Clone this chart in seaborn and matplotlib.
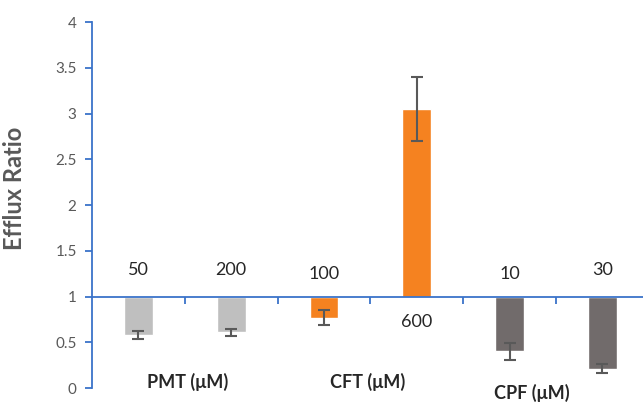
import numpy as np
import pandas as pd
import matplotlib.pyplot as plt
import seaborn as sns

# data
drugs = ['PMT', 'PMT', 'CFT', 'CFT', 'CPF', 'CPF']
doses = ['50', '200', '100', '600', '10', '30']
efflux = [0.58, 0.61, 0.77, 3.05, 0.40, 0.21]
err = [0.04, 0.04, 0.08, 0.35, 0.09, 0.05]
bar_colors = ['#BFBFBF', '#BFBFBF', '#F58220', '#F58220', '#716B6B', '#716B6B']
group_labels = ['PMT (μM)', 'CFT (μM)', 'CPF (μM)']

sns.set_style('white')
plt.rcParams['font.family'] = ['Lato', 'DejaVu Sans']

axis_blue = '#3A73C9'
grey_txt = '#595959'

df = pd.DataFrame({'cond': [f'{d} {c}' for d, c in zip(drugs, doses)],
                   'delta': np.array(efflux) - 1})

fig = plt.figure(figsize=(6.43, 4.03), dpi=100)
ax = fig.add_axes([0.143, 0.037, 0.866, 0.908])

# bars hang from the baseline at 1
sns.barplot(data=df, x='cond', y='delta', hue='cond', palette=bar_colors,
            legend=False, errorbar=None, width=0.31, bottom=1, ax=ax,
            saturation=1)
ax.errorbar(np.arange(len(efflux)), efflux, yerr=err, fmt='none',
            ecolor=grey_txt, elinewidth=1.5, capsize=4, capthick=1.5)

ax.set_xlim(-0.5, 5.5)
ax.set_ylim(0, 4)
ax.set_yticks(np.arange(0, 4.01, 0.5))
ax.set_yticklabels(['0', '0.5', '1', '1.5', '2', '2.5', '3', '3.5', '4'])
ax.set_xticks(np.arange(0.5, 5, 1))
ax.set_xticklabels([])
ax.set_xlabel('')

for s in ['top', 'right']:
    ax.spines[s].set_visible(False)
ax.spines['bottom'].set_position(('data', 1))
for s in ['left', 'bottom']:
    ax.spines[s].set_color(axis_blue)
    ax.spines[s].set_linewidth(1.3)
ax.tick_params(axis='both', which='both', direction='out', length=5,
               width=1.3, color=axis_blue, left=True, bottom=True)
ax.tick_params(axis='y', labelcolor=grey_txt, labelsize=11, pad=6)

ax.set_ylabel('Efflux Ratio', fontsize=17, fontweight='bold', color=grey_txt)
ax.yaxis.set_label_coords(-0.118, 0.546)

# dose labels
for i, (d, v) in enumerate(zip(doses, efflux)):
    if v > 1:
        ax.text(i, 0.72, d, ha='center', va='center', fontsize=13)
    else:
        ax.text(i, 1.29 if i in (0, 1, 5) else 1.25, d, ha='center',
                va='center', fontsize=13)

# group labels
for x, y, g in zip([0.53, 2.47, 4.24], [0.065, 0.065, -0.05], group_labels):
    ax.text(x, y, g, ha='center', va='center', fontsize=13,
            fontweight='bold', clip_on=False)

fig.savefig('out.png', dpi=100)
